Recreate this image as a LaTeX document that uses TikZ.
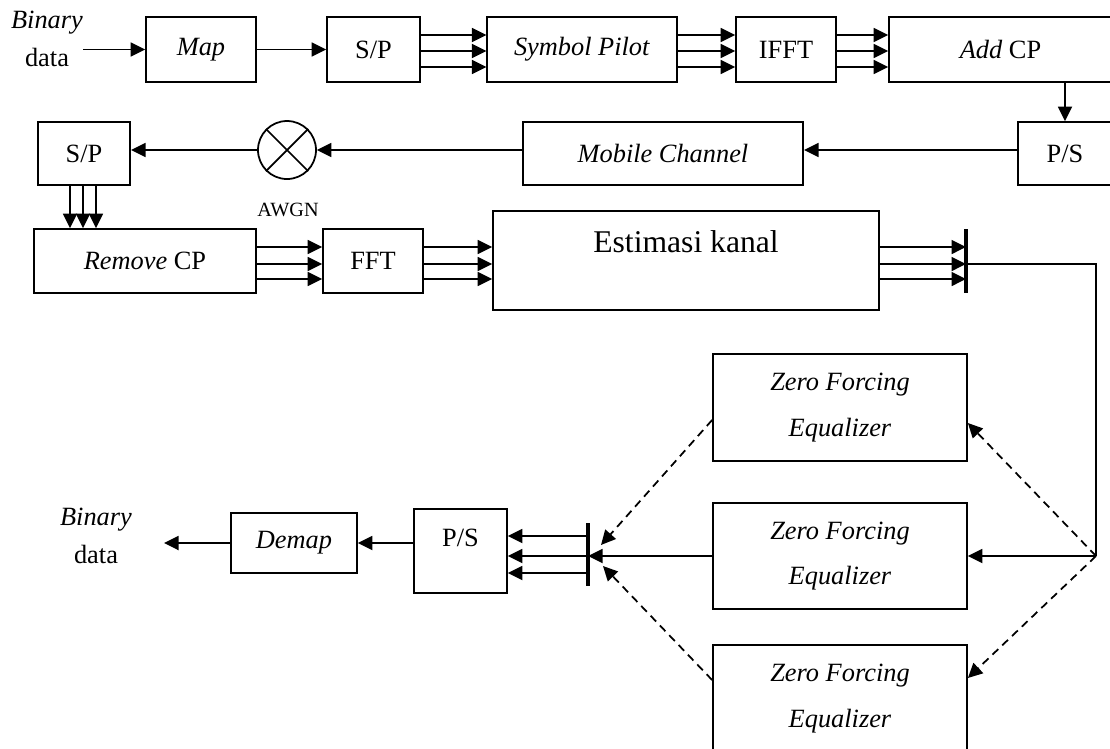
\documentclass[tikz,border=0pt]{standalone}
\usepackage{fontspec}
\setmainfont{Liberation Serif}
\usetikzlibrary{arrows.meta}
\tikzstyle{arrow} = [line width=1pt,-{Triangle[length=2.9mm,width=2.8mm]}]

\begin{document}
\begin{tikzpicture}[x=0.2mm, y=-0.2mm,
  block/.style={rectangle, draw, line width=1pt, inner sep=0pt, font=\fontsize{15}{18}\selectfont},
  txt/.style={inner sep=0pt, font=\fontsize{15}{18}\selectfont},
  zfbox/.style={block, minimum width=50.8mm, align=center},
  bar/.style={line width=2.4pt},
  dasharrow/.style={arrow, dash pattern=on 1.6mm off 1.1mm}
]
\useasboundingbox (0,0) rectangle (1110,748);
\clip (0,0) rectangle (1110,748);

% Transmitter
\node[txt] (inbin) at (47,23) {\textit{Binary}};
\node[txt] (indata) at (47,57) {data};
\coordinate (in) at (83,49.5);
\node[block, minimum width=22mm, minimum height=13mm] (map) at (201,49.5) {\textit{Map}};
\node[block, minimum width=18.6mm, minimum height=13mm] (sp1) at (373.5,49.5) {S/P};
\node[block, minimum width=37.9mm, minimum height=13mm] (sym) at (582,49.5) {\textit{Symbol Pilot}};
\node[block, minimum width=20mm, minimum height=13mm] (ifft) at (786,49.5) {IFFT};
\node[block, minimum width=44.6mm, minimum height=13mm] (addcp) at (1000.5,49.5) {\textit{Add} CP};

\draw[arrow] (in) -- (map.west);
\draw[arrow] (map.east) -- (sp1.west);
\foreach \y in {35,51,67} {
  \draw[arrow] (sp1.east |- 0,\y) -- (sym.west |- 0,\y);
  \draw[arrow] (sym.east |- 0,\y) -- (ifft.west |- 0,\y);
  \draw[arrow] (ifft.east |- 0,\y) -- (addcp.west |- 0,\y);
}

% Channel
\node[block, minimum width=18.8mm, minimum height=12.6mm] (ps1) at (1065,153.5) {P/S};
\node[block, minimum width=56.1mm, minimum height=12.6mm] (mobile) at (663,153.5) {\textit{Mobile Channel}};
\node[draw, circle, line width=1pt, minimum size=11.6mm, inner sep=0pt] (awgn) at (287,150) {};
\draw[line width=1pt] (awgn.north west) -- (awgn.south east) (awgn.north east) -- (awgn.south west);
\node[txt, font=\fontsize{11.5}{14}\selectfont] (awgnlbl) at (288,210) {AWGN};
\node[block, minimum width=18.5mm, minimum height=12.6mm] (sp2) at (84,153.5) {S/P};

\draw[arrow] (addcp.south -| ps1.north) -- (ps1.north);
\draw[arrow] (ps1.west |- awgn) -- (mobile.east |- awgn);
\draw[arrow] (mobile.west |- awgn) -- (awgn.east);
\draw[arrow] (awgn.west) -- (sp2.east |- awgn);

% Receiver
\node[block, minimum width=44.4mm, minimum height=12.8mm] (remcp) at (145,261) {\textit{Remove} CP};
\node[block, minimum width=20mm, minimum height=12.8mm] (fft) at (373,261) {FFT};
\node[block, minimum width=77.2mm, minimum height=19.8mm] (est) at (686,260.5) {};
\node[txt, font=\fontsize{18}{21}\selectfont] (estlbl) at (686,242) {Estimasi kanal};
\coordinate (bar1t) at (966,229);
\coordinate (bar1b) at (966,293);
\draw[bar] (bar1t) -- (bar1b);

\foreach \x in {70,83,96}
  \draw[arrow] (\x,0 |- sp2.south) -- (\x,0 |- remcp.north);
\foreach \y in {247,264,279} {
  \draw[arrow] (remcp.east |- 0,\y) -- (fft.west |- 0,\y);
  \draw[arrow] (fft.east |- 0,\y) -- (est.west |- 0,\y);
  \draw[arrow] (est.east |- 0,\y) -- (bar1t |- 0,\y);
}

% Equalizers
\node[zfbox, minimum height=21.4mm] (zf1) at (840,407.5) {\textit{Zero Forcing}\\[8pt]\textit{Equalizer}};
\node[zfbox, minimum height=21.2mm] (zf2) at (840,556) {\textit{Zero Forcing}\\[8pt]\textit{Equalizer}};
\node[zfbox, minimum height=21.4mm] (zf3) at (840,698.5) {\textit{Zero Forcing}\\[8pt]\textit{Equalizer}};
\coordinate (split) at (1096,556);

\draw[line width=1pt] (bar1t |- 0,264) -| (split);
\draw[arrow] (split) -- (zf2.east);
\draw[dasharrow] (split) -- (zf1.east |- 0,423);
\draw[dasharrow] (split) -- (zf3.east |- 0,678);

% Output
\coordinate (bar2t) at (588,523);
\coordinate (bar2b) at (588,586);
\coordinate (bar2u) at (601,545);
\coordinate (bar2l) at (603,566);
\draw[bar] (bar2t) -- (bar2b);
\node[block, minimum width=18.6mm, minimum height=16.8mm] (ps2) at (460.5,551) {};
\node[txt] (ps2lbl) at (460.5,538) {P/S};
\node[block, minimum width=25.2mm, minimum height=12mm] (demap) at (294,543) {\textit{Demap}};
\node[txt] (outbin) at (96,520) {\textit{Binary}};
\node[txt] (outdata) at (96,554) {data};
\coordinate (out) at (164,543);

\draw[arrow] (zf2.west) -- (bar2t |- zf2.west);
\draw[dasharrow] (zf1.west |- 0,420) -- (bar2u);
\draw[dasharrow] (zf3.west |- 0,680) -- (bar2l);
\foreach \y in {536,556,573}
  \draw[arrow] (bar2t |- 0,\y) -- (ps2.east |- 0,\y);
\draw[arrow] (ps2.west |- demap) -- (demap.east);
\draw[arrow] (demap.west) -- (out);
\end{tikzpicture}
\end{document}
